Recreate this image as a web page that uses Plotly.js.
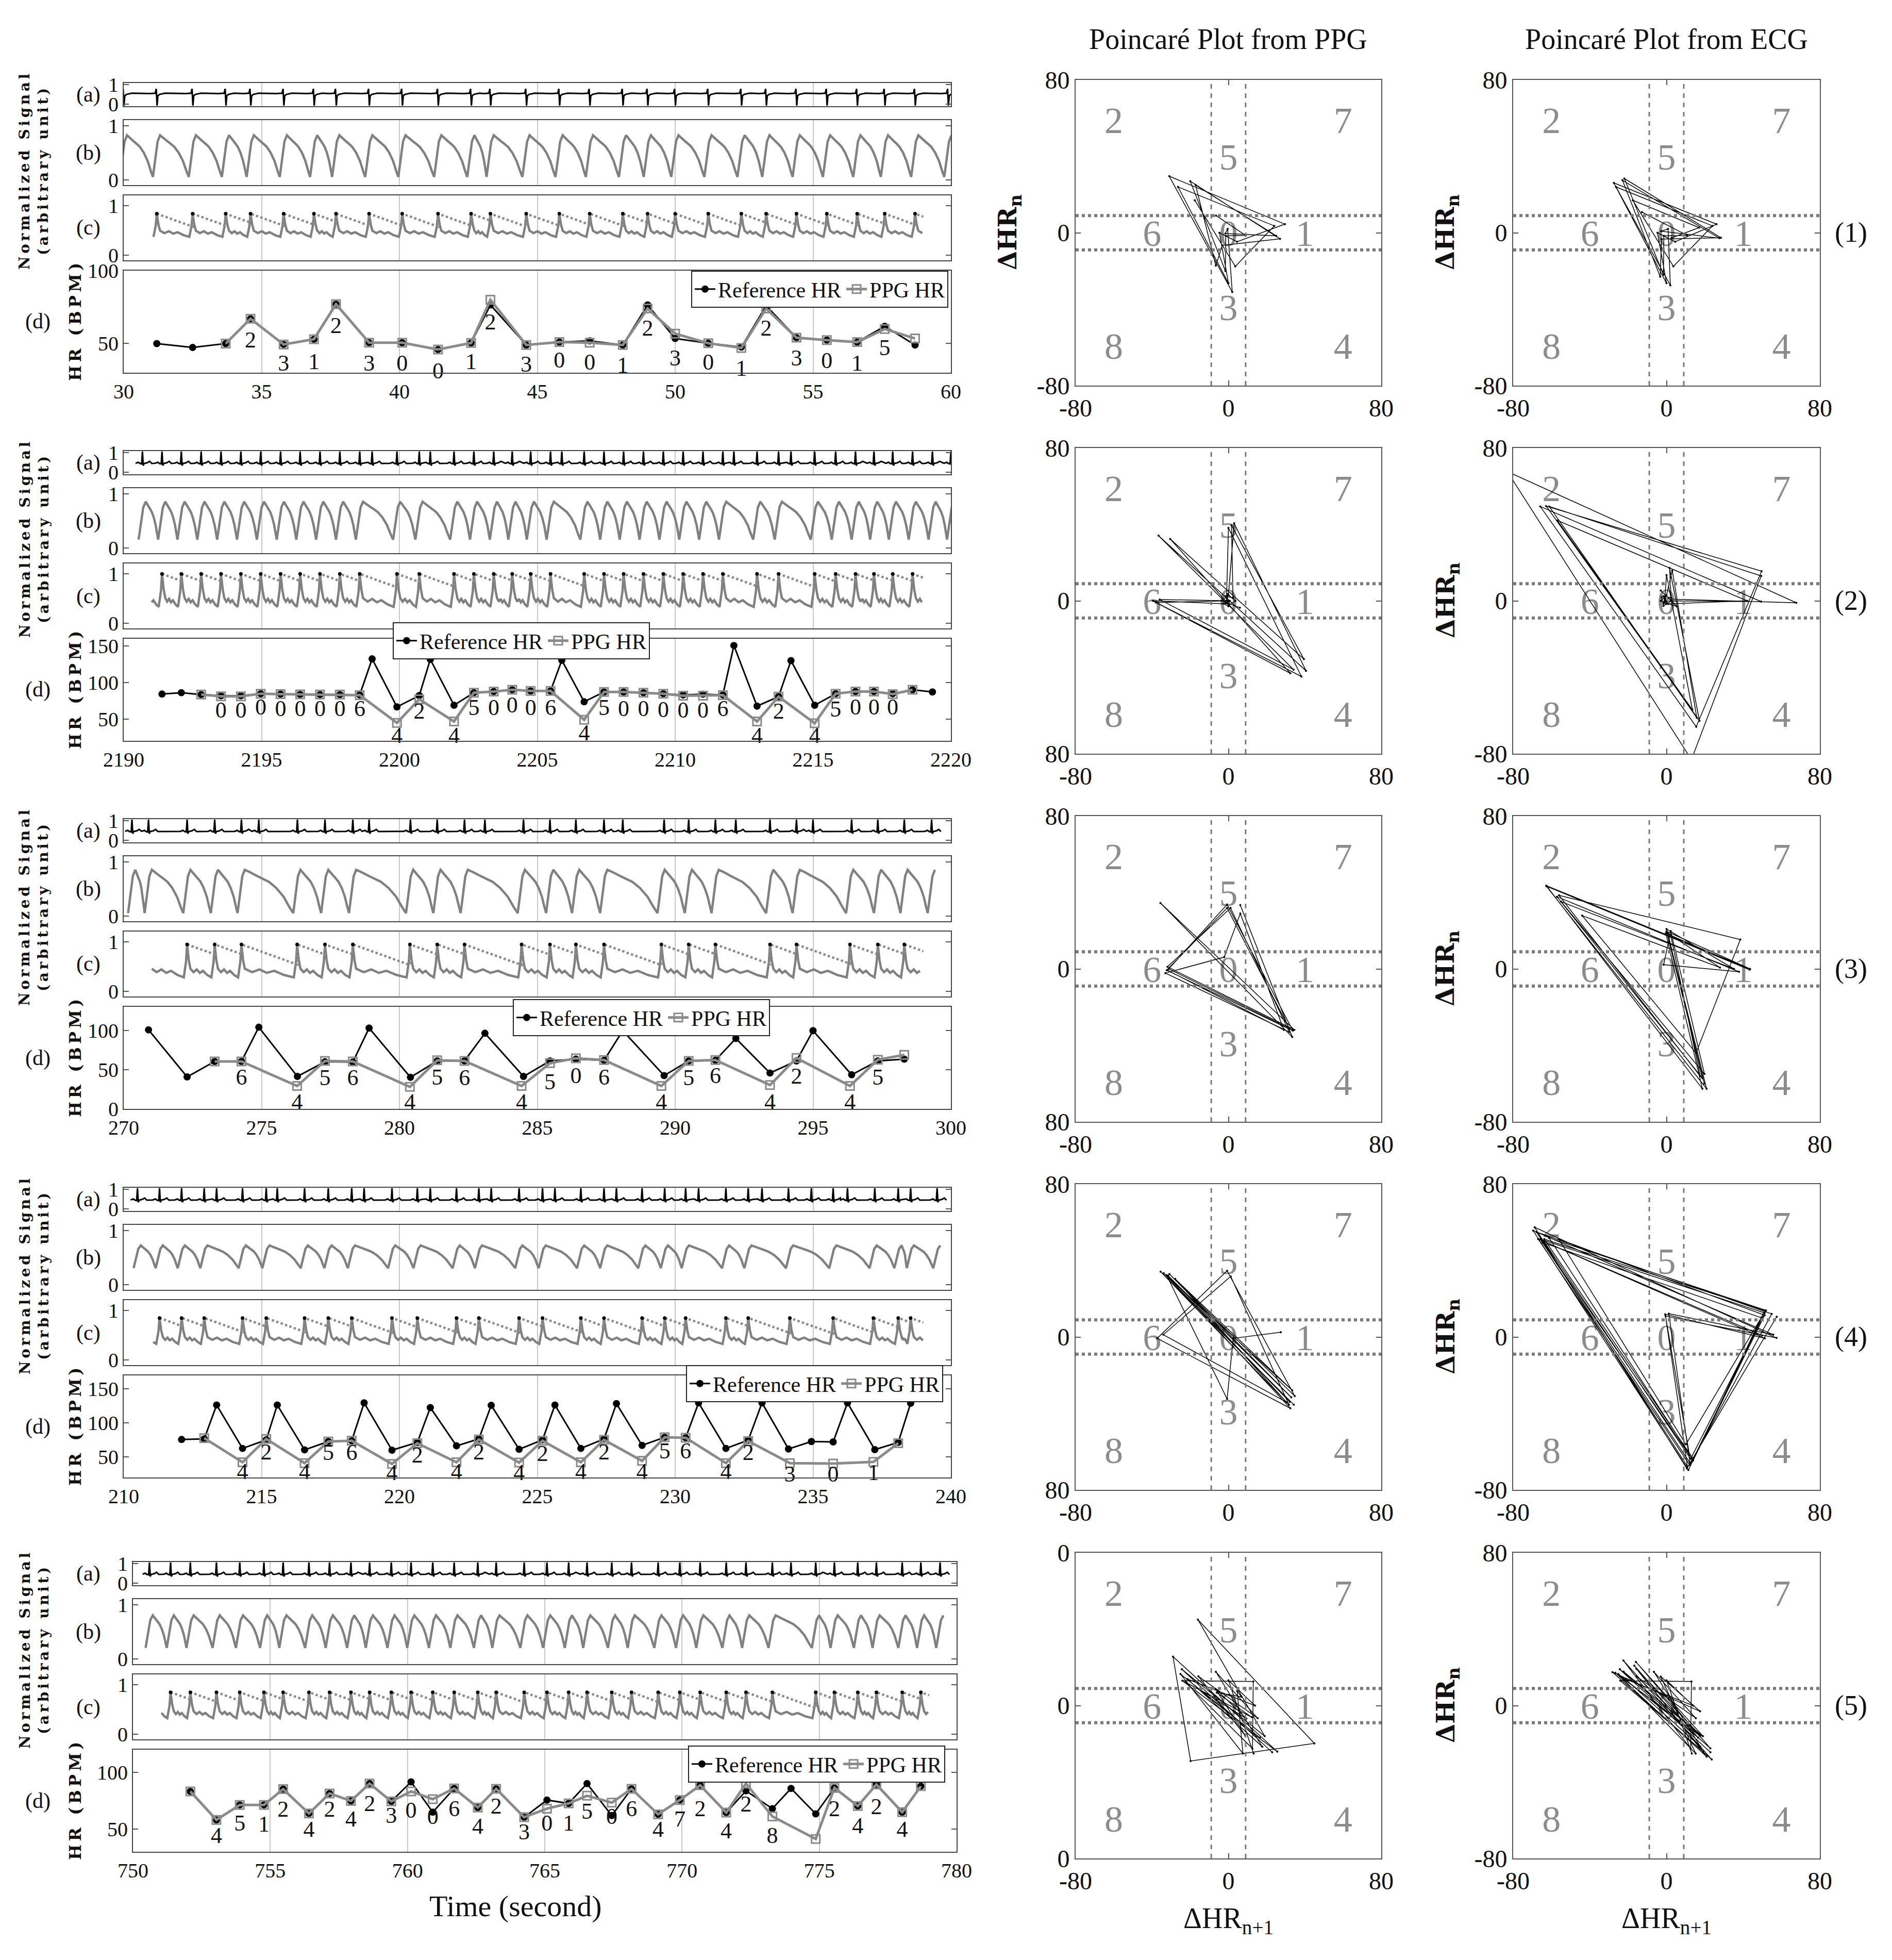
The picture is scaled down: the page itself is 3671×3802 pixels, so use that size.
<!DOCTYPE html>
<html>
<head>
<meta charset="utf-8">
<script src="https://cdn.plot.ly/plotly-3.0.1.min.js"></script>
<style>html,body{margin:0;padding:0;background:#fff}#graph{width:3671px;height:3802px}</style>
</head>
<body>
<div id="graph"></div>
<script>
// ---- data ----
const startT = [30, 2190, 270, 210, 750];

const refT1 = [31.2, 32.5, 33.7, 34.6, 35.8, 36.9, 37.7, 38.9, 40.1, 41.4, 42.6, 43.3, 44.6, 45.8, 46.9, 48.1, 49.0, 50.0, 51.2, 52.4, 53.3, 54.4, 55.5, 56.6, 57.6, 58.7];
const refHR1 = [50, 47.3, 50, 67, 49.4, 53, 77, 50.6, 50.6, 45.9, 50.4, 76.5, 49, 51, 51.8, 49, 76.5, 53.5, 50.2, 47.6, 76, 54, 52.4, 51, 61.8, 49];
const ppgT1 = [33.7, 34.6, 35.8, 36.9, 37.7, 38.9, 40.1, 41.4, 42.6, 43.3, 44.6, 45.8, 46.9, 48.1, 49.0, 50.0, 51.2, 52.4, 53.3, 54.4, 55.5, 56.6, 57.6, 58.7];
const ppgHR1 = [50, 67, 49.4, 53, 77, 50.6, 50.6, 45.9, 50.4, 80, 49, 51, 50.6, 49, 74, 56.8, 50.2, 47, 74, 54, 52.4, 51, 60, 53.5];
const digits1 = '2312300123001230123015';
const digitY1 = [51.2, 35.3, 36.5, 61, 35.3, 35.3, 30, 36.5, 63.5, 34.7, 37.6, 36, 34, 59.4, 38.8, 36, 31.8, 59.4, 38.8, 37, 35.3, 46];
const ecgExtra1 = [30.0, 59.9];

const refT2 = [2191.39, 2192.09, 2192.81, 2193.53, 2194.25, 2194.97, 2195.69, 2196.40, 2197.12, 2197.84, 2198.56, 2199.01, 2199.91, 2200.72, 2201.12, 2201.98, 2202.70, 2203.42, 2204.09, 2204.76, 2205.48, 2205.89, 2206.70, 2207.42, 2208.13, 2208.85, 2209.57, 2210.29, 2211.01, 2211.73, 2212.13, 2212.97, 2213.75, 2214.20, 2215.06, 2215.82, 2216.54, 2217.21, 2217.89, 2218.61, 2219.33];
const refHR2 = [84.1, 86, 83.4, 81.8, 81.8, 84.6, 84.1, 83.6, 83.4, 83.4, 83, 132.4, 66.5, 82, 131.6, 68.8, 86, 87.6, 90, 88.4, 88.4, 130.5, 73.5, 87, 87, 86, 84.6, 83, 84, 83, 150.7, 67.6, 80.6, 130, 68.8, 84.6, 87.6, 87.6, 84.6, 90, 87];
const ppgT2 = [2192.81, 2193.53, 2194.25, 2194.97, 2195.69, 2196.40, 2197.12, 2197.84, 2198.56, 2199.91, 2200.72, 2201.98, 2202.70, 2203.42, 2204.09, 2204.76, 2205.48, 2206.70, 2207.42, 2208.13, 2208.85, 2209.57, 2210.29, 2211.01, 2211.73, 2212.97, 2213.75, 2215.06, 2215.82, 2216.54, 2217.21, 2217.89, 2218.61];
const ppgHR2 = [83.4, 81, 81, 84.6, 84, 83.6, 83.4, 83.4, 82.5, 44.6, 77, 46.5, 86, 87.6, 90, 88.4, 88.4, 48.8, 87, 87, 86, 84.6, 81.8, 81.8, 82.5, 46.5, 80.6, 44, 84.6, 87.6, 87.6, 84, 90];
const digits2 = '0000000642450006450000064245000';
const digitY2 = [59.4, 59.4, 64.1, 61.8, 61.8, 61.8, 61.8, 61.8, 25.3, 58.2, 25.3, 63.4, 63.4, 66.5, 63.4, 63.4, 28.8, 63.4, 61.8, 61.8, 60.6, 59.4, 59.4, 61.8, 25.3, 58.2, 25.3, 61, 64.1, 64.1, 64.1];
const ecgExtra2 = [2190.68, 2220.0];

const refT3 = [270.9, 272.3, 273.3, 274.27, 274.9, 276.3, 277.3, 278.31, 278.9, 280.4, 281.37, 282.36, 283.1, 284.5, 285.46, 286.4, 287.42, 288.1, 289.6, 290.49, 291.46, 292.2, 293.44, 294.4, 295.0, 296.4, 297.35, 298.31];
const refHR3 = [100.7, 40.7, 60.4, 60.4, 104, 41.3, 60, 59.6, 102.9, 40.2, 61.1, 61.1, 96.3, 41.3, 61.1, 63.3, 61.8, 99.6, 42.4, 61.1, 61.8, 89.7, 45.7, 61.1, 99.6, 43.5, 61.1, 63.3];
const ppgT3 = [273.3, 274.27, 276.29, 277.3, 278.31, 280.38, 281.37, 282.36, 284.43, 285.46, 286.4, 287.42, 289.5, 290.49, 291.46, 293.44, 294.4, 296.34, 297.35, 298.31];
const ppgHR3 = [60.4, 60.4, 29.2, 61.1, 60.4, 28.1, 61.8, 61.1, 29.2, 58.2, 64.4, 62.2, 29.2, 61.1, 62.2, 30.3, 64.8, 29.2, 62.6, 68.8];
const digits3 = '645645645064564245';
const digitY3 = [38, 6.8, 37.6, 37.6, 6.8, 38, 37.6, 6.8, 32.5, 40.2, 38, 6.8, 37.6, 40.2, 6.8, 39.1, 6.8, 38];
const ecgExtra3 = [270.3, 299.3];

const refT4 = [212.1, 212.92, 213.37, 214.31, 215.17, 215.57, 216.56, 217.42, 218.27, 218.72, 219.73, 220.65, 221.12, 222.07, 222.88, 223.33, 224.34, 225.19, 225.64, 226.58, 227.42, 227.87, 228.8, 229.62, 230.38, 230.85, 231.84, 232.65, 233.15, 234.11, 234.94, 235.73, 236.25, 237.24, 238.09, 238.54];
const refHR4 = [75.8, 76.6, 126.5, 62.7, 75.3, 126.5, 60.6, 72.8, 74, 129.7, 60.1, 71.5, 122.7, 66.5, 76.6, 126, 61.4, 75.3, 126.5, 62.7, 76.6, 128.5, 67.2, 79.1, 78.4, 129.7, 62.7, 74.8, 129.7, 61.9, 72.8, 72.3, 129.7, 60.9, 71.5, 129];
const ppgT4 = [212.92, 214.31, 215.17, 216.56, 217.42, 218.27, 219.73, 220.65, 222.07, 222.88, 224.34, 225.19, 226.58, 227.42, 228.8, 229.62, 230.38, 231.84, 232.65, 234.16, 235.73, 237.19, 238.09];
const ppgHR4 = [77.8, 42.4, 76.6, 41.1, 72.8, 74, 39.9, 70.3, 42.4, 75.8, 41.9, 74, 42.4, 75.3, 44.4, 79.1, 78.4, 41.1, 73.5, 41.1, 40.4, 42.9, 70.3];
const digits4 = '424564242424245642301';
const digitY4 = [26, 54.6, 26, 53.8, 53.8, 24.7, 50, 26, 54.6, 24.7, 52.5, 26, 54.6, 26, 56.3, 56.3, 26, 53.8, 22.2, 22.2, 24.7];
const ecgExtra4 = [210.5, 211.3, 239.5];

const refT5 = [752.09, 753.04, 753.89, 754.77, 755.47, 756.41, 757.16, 757.94, 758.62, 759.41, 760.13, 760.92, 761.70, 762.56, 763.23, 764.25, 765.08, 765.87, 766.54, 767.44, 768.16, 769.13, 769.92, 770.66, 771.61, 772.33, 773.29, 773.97, 774.87, 775.55, 776.40, 777.08, 778.02, 778.70];
const refHR5 = [83.2, 58.1, 71.3, 71.3, 85.2, 63.7, 81.4, 74.8, 90.1, 74.4, 91.6, 64.9, 85.8, 69, 85.5, 60.4, 75.6, 72.6, 90.1, 61.9, 85.5, 63, 75.6, 88.6, 64.5, 83.7, 68, 85.8, 63.4, 86.3, 70.3, 89.3, 64.9, 87.8];
const ppgT5 = [752.09, 753.04, 753.89, 754.77, 755.47, 756.41, 757.16, 757.94, 758.62, 759.41, 760.13, 760.92, 761.70, 762.56, 763.23, 764.25, 765.08, 765.87, 766.54, 767.44, 768.16, 769.13, 769.92, 770.66, 771.61, 772.33, 773.29, 774.87, 775.55, 776.40, 777.08, 778.02, 778.70];
const ppgHR5 = [83.2, 58.1, 71.3, 71.3, 85.2, 63.7, 81.4, 74.8, 90.1, 74.4, 83.2, 76.4, 85.8, 69, 85.5, 60.4, 68, 72.6, 79.4, 73.3, 85.5, 63, 75.6, 88.6, 64.5, 90.1, 61.1, 41.3, 86.3, 70.3, 89.3, 64.9, 87.8];
const digits5 = '4512424230064230150647242842424';
const digitY5 = [42.8, 53.5, 52.7, 66, 48.2, 66, 57.3, 71, 60.4, 64.9, 59.6, 66.2, 50.9, 68.8, 45.9, 53.5, 53.5, 64.2, 59.6, 66.5, 48.2, 57.3, 66.2, 46.6, 70.3, 42.8, 25.3, 66.5, 51.2, 68, 48.2];
const ecgExtra5 = [750.6, 751.37, 779.4];

// beat shapes (a), (b), (c): [offset or fraction, level]
const ecgDown = [[-0.25, 0.53], [-0.06, 0.55], [-0.02, 0.77], [0.01, -0.08], [0.04, 0.42], [0.1, 0.49], [0.3, 0.55]];
const ecgUp = [[-0.25, 0.45], [-0.15, 0.5], [-0.09, 0.44], [-0.03, 0.42], [0, 1.05], [0.03, 0.33], [0.06, 0.44], [0.18, 0.48], [0.26, 0.55], [0.34, 0.44]];
const ppgRise = [[-0.14, 0], [-0.06, 0.4], [0.03, 0.85], [0.12, 1]];
const ppgFall = [[0.1, 0.95], [0.25, 0.86], [0.4, 0.78], [0.5, 0.72], [0.65, 0.58], [0.8, 0.38], [0.92, 0.14]];
const procRise = [[-0.12, 0.05], [-0.04, 0.5], [0, 1], [0.06, 0.55], [0.12, 0.3]];
const procFall = [[0.15, 0.2], [0.3, 0.28], [0.45, 0.18], [0.6, 0.24], [0.8, 0.12]];
const ppgLevels = [[0.05, 0.82], [0.15, 0.85], [0.05, 0.85], [0.3, 0.72], [0.2, 0.8]];
const procLevels = [[0.35, 0.84], [0.3, 1.0], [0.25, 0.95], [0.3, 0.85], [0.3, 0.85]];
const envDecay = 0.2;

const hrTicks = [[50, 100], [50, 100, 150], [0, 50, 100], [50, 100, 150], [50, 100]];
const ppgPoincareTicks = [['-80', '0', '80'], ['80', '0', '80'], ['80', '0', '80'], ['80', '0', '80'], ['0', '0', '0']];
const poincareTicks = ['-80', '0', '80'];
const zoneText = ['2', '7', '5', '6', '0', '1', '3', '8', '4'];
const zoneX = [-60, 60, 0, -40, 0, 40, 0, -60, 60];
const zoneY = [57, 57, 38, -2, -2, -2, -41, -61, -61];
const zoneLimit = 9;

// ---- layout helpers ----
const W = 3671, H = 3802;
const FONT = 'Liberation Serif, serif';
const WIDE = 'DejaVu Serif, serif';
const fx = p => p / W;
const fy = p => 1 - p / H;
const axName = (n, c) => c + 'axis' + (n === 1 ? '' : n);
const ref = (n, c) => c + (n === 1 ? '' : n);
const spaced = s => s.split('').join('\u2009');

const rows = [
  {refT: refT1, refHR: refHR1, ppgT: ppgT1, ppgHR: ppgHR1, digits: digits1, digitY: digitY1, extra: ecgExtra1},
  {refT: refT2, refHR: refHR2, ppgT: ppgT2, ppgHR: ppgHR2, digits: digits2, digitY: digitY2, extra: ecgExtra2},
  {refT: refT3, refHR: refHR3, ppgT: ppgT3, ppgHR: ppgHR3, digits: digits3, digitY: digitY3, extra: ecgExtra3},
  {refT: refT4, refHR: refHR4, ppgT: ppgT4, ppgHR: ppgHR4, digits: digits4, digitY: digitY4, extra: ecgExtra4},
  {refT: refT5, refHR: refHR5, ppgT: ppgT5, ppgHR: ppgHR5, digits: digits5, digitY: digitY5, extra: ecgExtra5}
];

const hrRanges = [[30, 100], [20, 160], [0, 130], [20, 170], [30, 120]];
const leftX = [[240, 1845], [240, 1845], [240, 1845], [240, 1845], [258, 1856]];
const dBottom = [723, 1437, 2151, 2866, 3592];
const panelOff = [[-562, -517], [-490, -364], [-344, -218], [-198, 0]];
const sigRanges = [[-0.11, 1.07], [-0.1, 1.1], [-0.1, 1.21]];
const pTop = [155, 869, 1583, 2297, 3012];
const pX = [[2087, 2680], [2936, 3531]];
const legendPos = [
  {x: 1840, y: 525, xa: 'right'}, {x: 762, y: 1207, xa: 'left'}, {x: 995, y: 1938, xa: 'left'},
  {x: 1830, y: 2648, xa: 'right'}, {x: 1834, y: 3386, xa: 'right'}
];

function beatWave(beats, shape) {
  const x = [], y = [];
  beats.forEach((t, k) => {
    const left = k > 0 ? (t - beats[k - 1]) / 2 : 1;
    const right = k < beats.length - 1 ? (beats[k + 1] - t) / 2 : 1;
    shape.forEach(([dt, v]) => {
      if (dt > -left && dt < right) { x.push(t + dt); y.push(v); }
    });
  });
  return {x, y};
}

function pulseWave(pulses, rise, fall, lev, lo, hi) {
  const x = [], y = [];
  const add = (t, v) => {
    if (t >= lo && t <= hi) { x.push(t); y.push(lev[0] + v * (lev[1] - lev[0])); }
  };
  pulses.forEach((p, k) => {
    rise.forEach(([dt, v]) => add(p + dt, v));
    if (k < pulses.length - 1) {
      const g0 = p + rise[rise.length - 1][0];
      const g1 = pulses[k + 1] + rise[0][0];
      if (g1 > g0) fall.forEach(([f, v]) => add(g0 + f * (g1 - g0), v));
    }
  });
  return {x, y};
}

function poincare(hr) {
  const d = hr.slice(1).map((v, i) => v - hr[i]);
  return {x: d.slice(1), y: d.slice(0, -1)};
}

const data = [];
const layout = {
  width: W, height: H, margin: {l: 0, r: 0, t: 0, b: 0},
  paper_bgcolor: '#fff', plot_bgcolor: '#fff',
  font: {family: FONT, size: 40, color: '#111'},
  showlegend: true, annotations: [], shapes: []
};

function note(text, x, y, size, extra, family) {
  layout.annotations.push(Object.assign({
    text, x: fx(x), y: fy(y), xref: 'paper', yref: 'paper', showarrow: false,
    font: {family: family || FONT, size, color: '#111'}, xanchor: 'center', yanchor: 'middle'
  }, extra || {}));
}

rows.forEach((row, r) => {
  const t0 = startT[r];
  const dB = dBottom[r];
  const [xl, xr] = leftX[r];
  const legendId = r === 0 ? 'legend' : 'legend' + (r + 1);

  // left panels (a)-(d)
  for (let j = 0; j < 4; j++) {
    const n = r * 6 + j + 1;
    const off = panelOff[j];
    layout[axName(n, 'x')] = {
      domain: [fx(xl), fx(xr)], range: [t0, t0 + 30], anchor: ref(n, 'y'),
      tick0: t0, dtick: 5, showgrid: true, gridcolor: '#c8c8c8', gridwidth: 2,
      showline: true, mirror: true, linecolor: '#444', linewidth: 2, zeroline: false,
      ticks: '', showticklabels: j === 3, tickfont: {family: FONT, size: 40, color: '#111'}
    };
    layout[axName(n, 'y')] = {
      domain: [fy(dB + off[1]), fy(dB + off[0])],
      range: j < 3 ? sigRanges[j] : hrRanges[r], anchor: ref(n, 'x'),
      tickvals: j < 3 ? [0, 1] : hrTicks[r], ticks: 'inside', ticklen: 10, tickwidth: 2,
      tickcolor: '#555', showline: true, mirror: 'ticks', linecolor: '#444', linewidth: 2,
      showgrid: false, zeroline: false, tickfont: {family: FONT, size: 40, color: '#111'}
    };
    const yc = dB + (off[0] + off[1]) / 2;
    if (j < 3) note('(' + 'abc'[j] + ')', 171, yc, 42);
    else {
      note('(d)', 73, yc, 42);
      note('<b>' + spaced('HR (BPM)') + '</b>', 146, yc, 32, {textangle: -90}, WIDE);
    }
  }
  note('<b>' + spaced('Normalized Signal') + '<br>' + spaced('(arbitrary unit)') + '</b>',
    66, dB - 390, 28, {textangle: -90}, WIDE);

  const nA = r * 6 + 1, nB = nA + 1, nC = nA + 2, nD = nA + 3;
  const ecgBeats = row.refT.concat(row.extra).sort((a, b) => a - b);
  const pulses = row.refT.filter(t => t < row.ppgT[0] || t > row.ppgT[row.ppgT.length - 1])
    .concat(row.ppgT, row.extra).sort((a, b) => a - b);

  const ecg = beatWave(ecgBeats, r === 0 ? ecgDown : ecgUp);
  data.push({x: ecg.x, y: ecg.y, xaxis: ref(nA, 'x'), yaxis: ref(nA, 'y'), mode: 'lines',
    line: {color: '#000', width: 3}, showlegend: false, hoverinfo: 'skip'});

  const ppg = pulseWave(pulses, ppgRise, ppgFall, ppgLevels[r], -Infinity, Infinity);
  data.push({x: ppg.x, y: ppg.y, xaxis: ref(nB, 'x'), yaxis: ref(nB, 'y'), mode: 'lines',
    line: {color: '#808080', width: 4.5}, showlegend: false, hoverinfo: 'skip'});

  const lo = t0 + 1, hi = t0 + 29;
  const proc = pulseWave(pulses, procRise, procFall, procLevels[r], lo, hi);
  data.push({x: proc.x, y: proc.y, xaxis: ref(nC, 'x'), yaxis: ref(nC, 'y'), mode: 'lines',
    line: {color: '#808080', width: 4.5}, showlegend: false, hoverinfo: 'skip'});
  const peaks = pulses.filter(t => t >= lo && t <= hi);
  const top = procLevels[r][1];
  const env = {x: [], y: []};
  peaks.forEach((p, k) => {
    const end = k < peaks.length - 1 ? peaks[k + 1] : hi;
    env.x.push(p, end); env.y.push(top, top - envDecay * (end - p));
  });
  data.push({x: env.x, y: env.y, xaxis: ref(nC, 'x'), yaxis: ref(nC, 'y'), mode: 'lines',
    line: {color: '#8a8a8a', width: 4.5, dash: 'dot'}, showlegend: false, hoverinfo: 'skip'});
  data.push({x: peaks, y: peaks.map(() => top), xaxis: ref(nC, 'x'), yaxis: ref(nC, 'y'), mode: 'markers',
    marker: {color: '#000', size: 7}, showlegend: false, hoverinfo: 'skip'});

  // (d) heart rate
  data.push({x: row.refT, y: row.refHR, xaxis: ref(nD, 'x'), yaxis: ref(nD, 'y'), name: 'Reference HR',
    mode: 'lines+markers', line: {color: '#000', width: 3}, marker: {symbol: 'circle', size: 14, color: '#000'},
    legend: legendId, cliponaxis: false});
  data.push({x: row.ppgT, y: row.ppgHR, xaxis: ref(nD, 'x'), yaxis: ref(nD, 'y'), name: 'PPG HR',
    mode: 'lines+markers', line: {color: '#8a8a8a', width: 5},
    marker: {symbol: 'square-open', size: 16, color: '#8a8a8a', line: {width: 3}},
    legend: legendId, cliponaxis: false});
  data.push({x: row.ppgT.slice(1, 1 + row.digits.length), y: row.digitY, text: row.digits.split(''),
    xaxis: ref(nD, 'x'), yaxis: ref(nD, 'y'), mode: 'text', textposition: 'middle center',
    textfont: {family: FONT, size: 44, color: '#111'}, showlegend: false, cliponaxis: false, hoverinfo: 'skip'});

  const lp = legendPos[r];
  layout[legendId] = {
    x: fx(lp.x), y: fy(lp.y), xanchor: lp.xa, yanchor: 'top', orientation: 'h',
    bgcolor: '#fff', bordercolor: '#222', borderwidth: 2,
    font: {family: FONT, size: 42, color: '#111'}, itemwidth: 40, traceorder: 'normal'
  };

  // Poincaré plots (PPG, ECG)
  [row.ppgHR, row.refHR].forEach((hr, k) => {
    const n = r * 6 + 5 + k;
    const [pl, pr] = pX[k];
    layout[axName(n, 'x')] = {
      domain: [fx(pl), fx(pr)], range: [-80, 80], anchor: ref(n, 'y'),
      tickvals: [-80, 0, 80], ticktext: poincareTicks, ticks: 'inside', ticklen: 10, tickwidth: 2, tickcolor: '#555',
      showline: true, mirror: 'ticks', linecolor: '#555', linewidth: 2, showgrid: false, zeroline: false,
      tickfont: {family: FONT, size: 48, color: '#111'}
    };
    layout[axName(n, 'y')] = {
      domain: [fy(pTop[r] + 593), fy(pTop[r])], range: [-80, 80], anchor: ref(n, 'x'),
      tickvals: [-80, 0, 80], ticktext: k === 0 ? ppgPoincareTicks[r] : poincareTicks,
      ticks: 'inside', ticklen: 10, tickwidth: 2, tickcolor: '#555',
      showline: true, mirror: 'ticks', linecolor: '#555', linewidth: 2, showgrid: false, zeroline: false,
      tickfont: {family: FONT, size: 48, color: '#111'}
    };
    const xr_ = ref(n, 'x'), yr_ = ref(n, 'y');
    [-zoneLimit, zoneLimit].forEach(v => {
      layout.shapes.push({type: 'line', xref: xr_, yref: yr_, x0: -80, x1: 80, y0: v, y1: v,
        line: {color: '#7a7a7a', width: 6, dash: 'dot'}});
      layout.shapes.push({type: 'line', xref: xr_, yref: yr_, x0: v, x1: v, y0: -80, y1: 80,
        line: {color: '#7a7a7a', width: 3, dash: 'dash'}});
    });
    data.push({x: zoneX, y: zoneY, text: zoneText, xaxis: xr_, yaxis: yr_, mode: 'text',
      textfont: {family: FONT, size: 72, color: '#8c8c8c'}, showlegend: false, hoverinfo: 'skip'});
    const p = poincare(hr);
    data.push({x: p.x, y: p.y, xaxis: xr_, yaxis: yr_, mode: 'lines+markers',
      line: {color: '#000', width: 1.5}, marker: {size: 4, color: '#000'}, showlegend: false, hoverinfo: 'skip'});
    const yc = pTop[r] + 296;
    if (k === 1 || r === 0) note('<b>ΔHR<sub>n</sub></b>', pl - 128, yc, 48, {textangle: -90}, WIDE);
    if (r === 4) note('ΔHR<sub>n+1</sub>', (pl + pr) / 2, 3725, 56);
  });
  note('(' + (r + 1) + ')', 3591, pTop[r] + 296, 54);
});

note('Poincaré Plot from PPG', 2383, 76, 56);
note('Poincaré Plot from ECG', 3233, 76, 56);
note('Time (second)', 1000, 3697, 58);

Plotly.newPlot('graph', data, layout, {staticPlot: true});
</script>
</body>
</html>
